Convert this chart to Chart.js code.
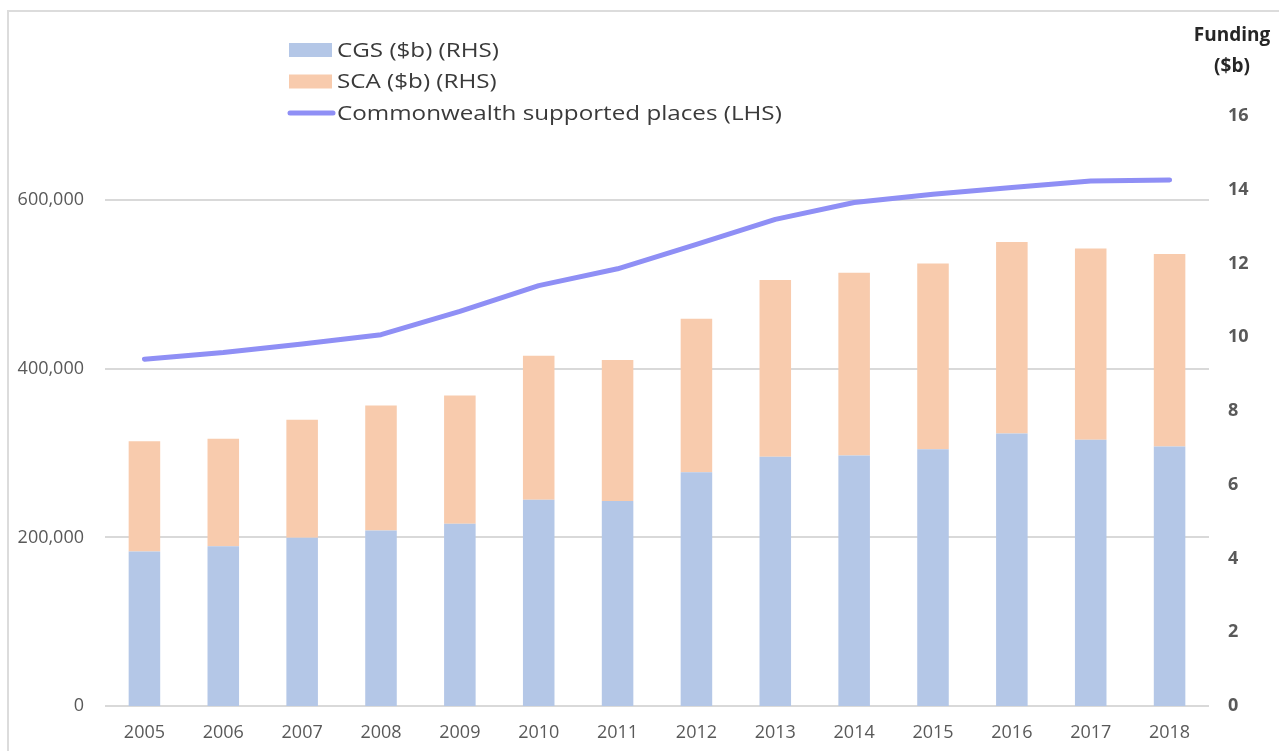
<!DOCTYPE html>
<html>
<head>
<meta charset="utf-8">
<script src="https://cdn.jsdelivr.net/npm/chart.js@4.4.0/dist/chart.umd.min.js"></script>
<style>
  html, body { margin: 0; padding: 0; background: #fff; }
  .frame { position: absolute; left: 0; top: 0; width: 1279px; height: 751px; overflow: hidden; }
  .edge { position: absolute; left: 7px; top: 10px; right: -4px; bottom: -4px;
          border-left: 2px solid #dcdcdc; border-top: 2px solid #dcdcdc; }
  canvas { position: absolute; left: 0; top: 0; }
</style>
</head>
<body>
<div class="frame">
  <div class="edge"></div>
  <canvas id="chart" width="1279" height="751"></canvas>
</div>
<script>
// funding per year, $b (right axis)
const years = ["2005", "2006", "2007", "2008", "2009", "2010", "2011",
               "2012", "2013", "2014", "2015", "2016", "2017", "2018"];
const cgsFunding = [4.19, 4.33, 4.56, 4.76, 4.94, 5.59, 5.56,
                    6.34, 6.76, 6.79, 6.96, 7.39, 7.22, 7.04];
const scaFunding = [2.99, 2.92, 3.20, 3.39, 3.48, 3.91, 3.82,
                    4.16, 4.79, 4.96, 5.04, 5.19, 5.19, 5.22];
// commonwealth supported places (left axis)
const supportedPlaces = [411500, 419400, 429400, 440500, 468200, 498800, 518700,
                         547600, 577400, 597300, 607200, 615100, 623000, 624200];
const placeTicks = [0, 200000, 400000, 600000];
const fundingTicks = [0, 2, 4, 6, 8, 10, 12, 14, 16];

const BLUE = "#b4c7e7";
const PEACH = "#f8cbad";
const LINE = "#8f8ff5";
const GRID = "#d9d9d9";
const TICK = "#595959";
const FONT = "'Open Sans', 'DejaVu Sans', sans-serif";

// stacked legend drawn in the upper part of the canvas
const stackedLegend = {
  id: "stackedLegend",
  afterDraw(chart) {
    const ctx = chart.ctx;
    const x = 289, y0 = 50, gap = 31.5;
    ctx.save();
    chart.data.datasets.forEach((ds, i) => {
      const y = y0 + i * gap;
      if (ds.type === "line") {
        ctx.strokeStyle = ds.borderColor;
        ctx.lineWidth = 5;
        ctx.lineCap = "round";
        ctx.beginPath();
        ctx.moveTo(290, y);
        ctx.lineTo(333, y);
        ctx.stroke();
      } else {
        ctx.fillStyle = ds.backgroundColor;
        ctx.fillRect(x, y - 7, 43, 14);
      }
      ctx.save();
      ctx.translate(337, y);
      ctx.scale(1.21, 1);
      ctx.fillStyle = "#3a3a3a";
      ctx.font = "20px " + FONT;
      ctx.textBaseline = "middle";
      ctx.fillText(ds.label, 0, 1);
      ctx.restore();
    });
    ctx.restore();
  }
};

// "Funding ($b)" heading above the right axis
const fundingTitle = {
  id: "fundingTitle",
  afterDraw(chart) {
    const ctx = chart.ctx;
    ctx.save();
    ctx.fillStyle = "#262626";
    ctx.font = "bold 19px " + FONT;
    ctx.textAlign = "center";
    ctx.textBaseline = "middle";
    ctx.fillText("Funding", 1232, 36);
    ctx.fillText("($b)", 1232, 67);
    ctx.restore();
  }
};

new Chart(document.getElementById("chart"), {
  data: {
    labels: years,
    datasets: [
      {
        type: "bar",
        label: "CGS ($b) (RHS)",
        data: cgsFunding,
        backgroundColor: BLUE,
        yAxisID: "y1",
        stack: "funding",
        barPercentage: 0.4,
        categoryPercentage: 1
      },
      {
        type: "bar",
        label: "SCA ($b) (RHS)",
        data: scaFunding,
        backgroundColor: PEACH,
        yAxisID: "y1",
        stack: "funding",
        barPercentage: 0.4,
        categoryPercentage: 1
      },
      {
        type: "line",
        label: "Commonwealth supported places (LHS)",
        data: supportedPlaces,
        borderColor: LINE,
        backgroundColor: LINE,
        borderWidth: 5,
        borderJoinStyle: "round",
        borderCapStyle: "round",
        pointRadius: 0,
        tension: 0,
        yAxisID: "y",
        order: -1
      }
    ]
  },
  options: {
    responsive: false,
    animation: false,
    devicePixelRatio: 1,
    layout: { padding: { top: 116, bottom: 6, left: 0, right: 0 } },
    plugins: {
      legend: { display: false },
      tooltip: { enabled: false }
    },
    scales: {
      x: {
        stacked: true,
        grid: { display: false },
        border: { display: false },
        afterFit: (s) => { s.height = 39; },
        ticks: { color: TICK, font: { family: FONT, size: 18 }, padding: 8, maxRotation: 0 }
      },
      y: {
        position: "left",
        min: 0,
        max: 700000,
        afterBuildTicks: (s) => { s.ticks = placeTicks.map((v) => ({ value: v })); },
        afterFit: (s) => { s.width = 105; },
        grid: { color: GRID, lineWidth: 2, drawTicks: false },
        border: { display: false },
        ticks: {
          color: TICK,
          padding: 21,
          font: { family: FONT, size: 18 },
          callback: (v) => v.toLocaleString("en-US")
        }
      },
      y1: {
        position: "right",
        stacked: true,
        min: 0,
        max: 16,
        afterBuildTicks: (s) => { s.ticks = fundingTicks.map((v) => ({ value: v })); },
        afterFit: (s) => { s.width = 70; },
        grid: { display: false, drawTicks: false },
        border: { display: false },
        ticks: { color: TICK, padding: 19, font: { family: FONT, size: 18, weight: "bold" } }
      }
    }
  },
  plugins: [stackedLegend, fundingTitle]
});
</script>
</body>
</html>
